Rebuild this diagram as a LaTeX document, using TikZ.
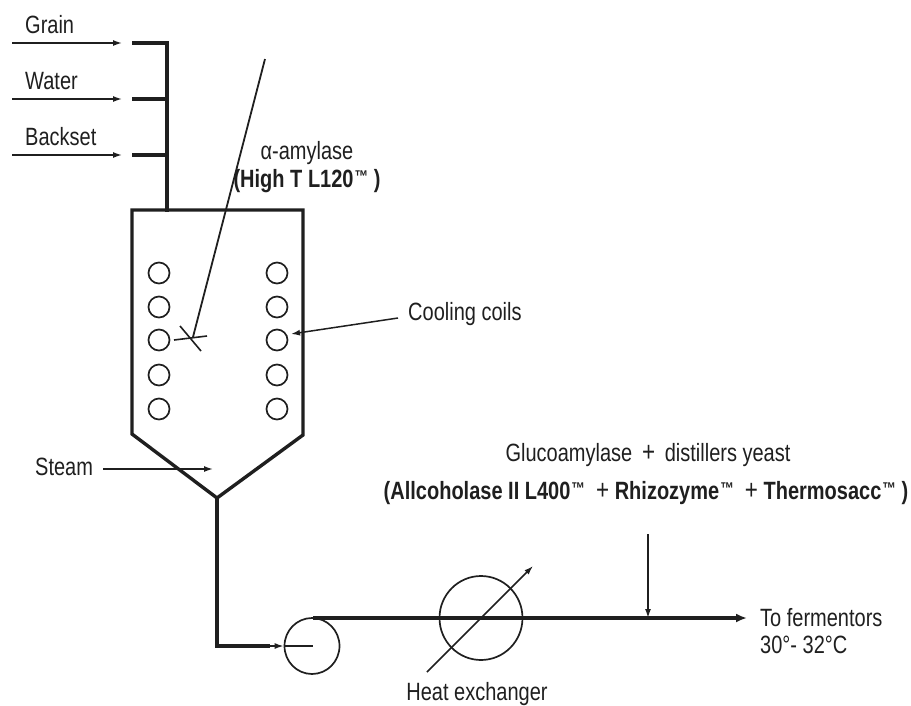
\documentclass[tikz,border=0pt]{standalone}
\usepackage{fontspec}
\setmainfont{Liberation Sans}[FakeStretch=0.8]
\usetikzlibrary{arrows.meta,positioning,shapes.geometric}
\newcommand{\tmark}{\kern1pt\raisebox{5pt}{\fontsize{17}{17}\selectfont ™}}
\newcommand{\plusmark}{\textmd{\fontsize{28}{28}\selectfont +}}

\begin{document}
\begin{tikzpicture}[
  x=1pt, y=-1pt,
  >={Latex[length=9pt,width=6pt]},
  font=\fontsize{25}{29}\selectfont,
  color=black!88,
  lbl/.style={inner sep=0pt, anchor=west, text=black!88},
  coil/.style={draw, circle, line width=1.7pt, minimum size=21pt, inner sep=0pt},
  wheel/.style={draw, ellipse, line width=1.7pt, inner sep=0pt},
  feed/.style={->, line width=1.5pt},
  pipe/.style={line width=3.4pt},
  thinline/.style={line width=1.6pt}
]
\useasboundingbox (0,0) rectangle (911,705);

% inlet streams
\foreach \name/\yy/\txt in {grain/43/Grain, water/99/Water, backset/155/Backset} {
  \coordinate (\name-in) at (12,\yy);
  \coordinate (\name-end) at (122,\yy);
  \coordinate (\name-bar) at (132,\yy);
  \coordinate (\name-hdr) at (167,\yy);
  \node[lbl] (\name) at (25,\yy-18) {\txt};
  \draw[feed] (\name-in) -- (\name-end);
  \draw[pipe] (\name-bar) -- (\name-hdr);
}

% tank
\coordinate (tl) at (132,210);
\coordinate (tr) at (303,210);
\coordinate (br) at (303,435);
\coordinate (apex) at (217,498);
\coordinate (bl) at (132,434);
\coordinate (top) at (167,210);
\draw[pipe, line cap=rect] (grain-hdr) -- (top);
\draw[pipe, line join=miter] (tl) -- (tr) -- (br) -- (apex) -- (bl) -- cycle;

% coils
\foreach \i/\yy in {1/273, 2/307, 3/340, 4/375, 5/409} {
  \node[coil] (cl\i) at (159,\yy) {};
  \node[coil] (cr\i) at (277,\yy) {};
}

% agitator
\coordinate (shaft) at (265,59);
\coordinate (hub) at (193,337);
\coordinate (blade-a) at (174,340);
\coordinate (blade-b) at (207,336);
\coordinate (blade-c) at (180,326);
\coordinate (blade-d) at (201,351);
\draw[line width=1.8pt] (shaft) -- (hub);
\draw[thinline] (blade-a) -- (blade-b);
\draw[thinline] (blade-c) -- (blade-d);

\node[anchor=center, inner sep=0pt] (amylase) at (307,153) {α-amylase};
\node[anchor=center, inner sep=0pt] (hight) at (307,181) {\textbf{(High T L120\tmark\ )}};

\node[lbl] (cooling) at (408,314) {Cooling coils};
\coordinate (cooling-tail) at (398,318);
\coordinate (cooling-head) at (291,334);
\draw[feed] (cooling-tail) -- (cooling-head);

\node[lbl] (steam) at (35,467) {Steam};
\coordinate (steam-tail) at (103,469);
\coordinate (steam-head) at (213,469);
\draw[feed] (steam-tail) -- (steam-head);

% pump and heat exchanger
\node[wheel, minimum width=55pt, minimum height=56pt] at (312,646) (pump) {};
\node[wheel, minimum width=83pt, minimum height=84pt] at (481,618) (hx) {};
\coordinate (elbow) at (217,646);
\coordinate (pump-in) at (313,646);
\coordinate (pump-top) at (313,618);
\coordinate (out) at (747,618);
\draw[pipe, line join=miter] (apex) -- (elbow) -- ([xshift=-14pt]pump.west);
\draw[->, line width=1.5pt] ([xshift=-14pt]pump.west) -- (pump.west);
\draw[thinline] (pump.west) -- (pump-in);
\draw[pipe, -{Latex[length=11pt,width=9pt]}] (pump-top) -- (out);

\coordinate (hx-tail) at (427,672);
\coordinate (hx-head) at (533,566);
\draw[feed] (hx-tail) -- (hx-head);

\coordinate (dose-tail) at (648,534);
\coordinate (dose-head) at (648,618);
\draw[feed] (dose-tail) -- (dose-head);

\node[anchor=center, inner sep=0pt] (gluco) at (648,455) {Glucoamylase\ \,\plusmark\,\ distillers yeast};
\node[anchor=center, inner sep=0pt] (enzymes) at (646,493) {\textbf{(Allcoholase II L400\tmark\ \ \plusmark\ Rhizozyme\tmark\ \ \plusmark\ Thermosacc\tmark\ )}};
\node[lbl] (fermentors) at (760,618) {To fermentors};
\node[lbl] (temp) at (760,645) {30°- 32°C};
\node[anchor=center, inner sep=0pt] (hxlabel) at (477,694) {Heat exchanger};
\end{tikzpicture}
\end{document}
